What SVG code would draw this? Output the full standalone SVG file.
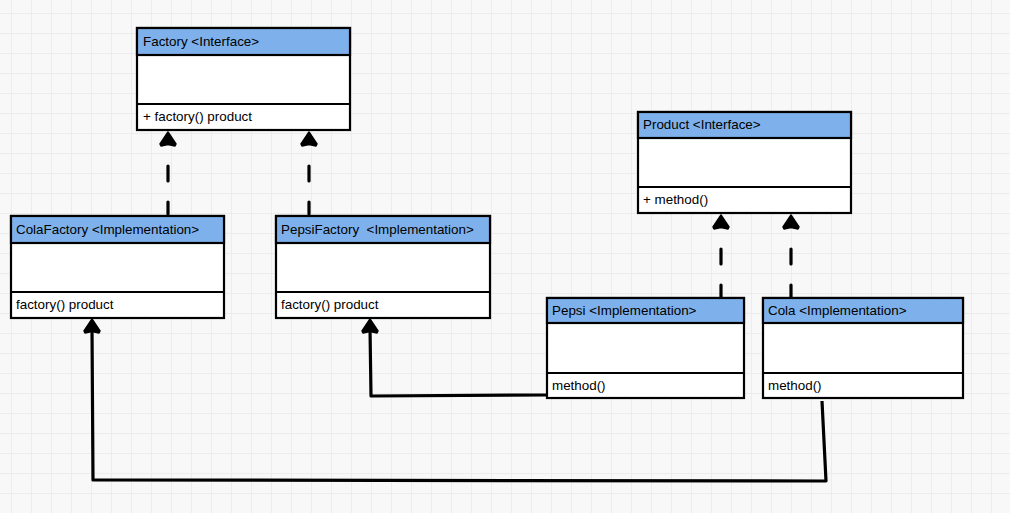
<svg xmlns="http://www.w3.org/2000/svg" width="1010" height="513" viewBox="0 0 1010 513">
<defs>
<pattern id="grid" patternUnits="userSpaceOnUse" x="11" y="13" width="20" height="20">
<path d="M0,0 H20 M0,0 V20" stroke="#ececec" stroke-width="2" fill="none"/>
</pattern>
<path id="ah" d="M0,0 L8,12 L7,14 L0,12.5 L-7,14 L-8,12 Z" fill="#000" stroke="#000" stroke-width="1.5" stroke-linejoin="round"/>
<style>
.box{fill:#fff;stroke:#000;stroke-width:2.2}
.hdr{fill:#7eb1eb;stroke:#000;stroke-width:2.2}
.sep{stroke:#000;stroke-width:2;fill:none}
text{font-family:"Liberation Sans",Arial,sans-serif;font-size:13.4px;fill:#000;white-space:pre}
.dash{stroke:#000;stroke-width:3.2;fill:none;stroke-dasharray:12 21 15 200;stroke-linecap:round}
.solid{stroke:#000;stroke-width:3.2;fill:none;stroke-linejoin:round}
</style>
</defs>
<rect width="1010" height="513" fill="#f8f8f8"/>
<rect width="1010" height="513" fill="url(#grid)"/>

<g id="connectors">
<path class="dash" d="M168,214 L168,142"/>
<use href="#ah" x="168" y="132"/>
<path class="dash" d="M309,214 L309,142"/>
<use href="#ah" x="309" y="132"/>
<path class="dash" d="M721,297 L721,225"/>
<use href="#ah" x="721" y="215"/>
<path class="dash" d="M791,297 L791,225"/>
<use href="#ah" x="791" y="215"/>
<path class="solid" d="M547,395 L371,396 L370,328"/>
<use href="#ah" x="370" y="319"/>
<path class="solid" d="M822,401 L826,481 L93,480 L92,328"/>
<use href="#ah" x="92" y="319"/>
</g>

<g id="factory">
<rect class="box" x="137" y="28" width="213" height="102"/>
<rect class="hdr" x="137" y="28" width="213" height="27"/>
<line class="sep" x1="137" y1="104" x2="350" y2="104"/>
<text x="143" y="46">Factory &lt;Interface&gt;</text>
<text x="143" y="121">+ factory() product</text>
</g>

<g id="colafactory">
<rect class="box" x="11" y="216" width="213" height="102"/>
<rect class="hdr" x="11" y="216" width="213" height="27"/>
<line class="sep" x1="11" y1="292" x2="224" y2="292"/>
<text x="16" y="234">ColaFactory &lt;Implementation&gt;</text>
<text x="16" y="309">factory() product</text>
</g>

<g id="pepsifactory">
<rect class="box" x="276" y="216" width="214" height="102"/>
<rect class="hdr" x="276" y="216" width="214" height="27"/>
<line class="sep" x1="276" y1="292" x2="490" y2="292"/>
<text x="281" y="234">PepsiFactory  &lt;Implementation&gt;</text>
<text x="281" y="309">factory() product</text>
</g>

<g id="product">
<rect class="box" x="638" y="112" width="213" height="101"/>
<rect class="hdr" x="638" y="112" width="213" height="26"/>
<line class="sep" x1="638" y1="187" x2="851" y2="187"/>
<text x="643" y="129">Product &lt;Interface&gt;</text>
<text x="643" y="204">+ method()</text>
</g>

<g id="pepsi">
<rect class="box" x="547" y="298" width="197" height="100"/>
<rect class="hdr" x="547" y="298" width="197" height="25"/>
<line class="sep" x1="547" y1="373" x2="744" y2="373"/>
<text x="552" y="315">Pepsi &lt;Implementation&gt;</text>
<text x="552" y="390">method()</text>
</g>

<g id="cola">
<rect class="box" x="763" y="298" width="200" height="100"/>
<rect class="hdr" x="763" y="298" width="200" height="25"/>
<line class="sep" x1="763" y1="373" x2="963" y2="373"/>
<text x="768" y="315">Cola &lt;Implementation&gt;</text>
<text x="768" y="390">method()</text>
</g>
</svg>
